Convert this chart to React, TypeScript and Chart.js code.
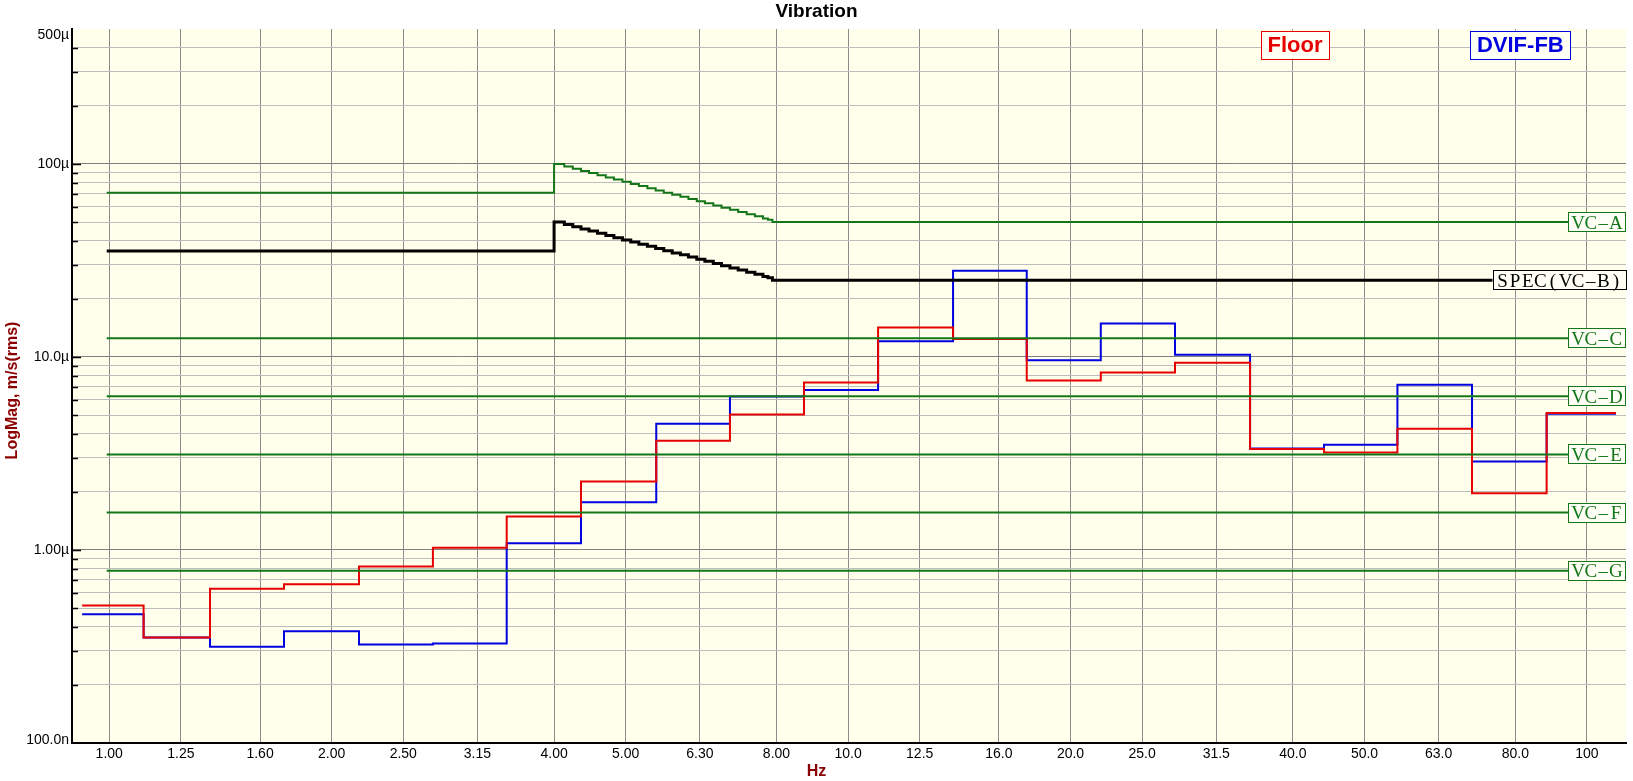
import React, { useEffect, useRef } from 'react';
import { Chart, registerables } from 'chart.js';

Chart.register(...registerables);

// ---- Data (velocities in µm/s, frequencies in Hz) ----
const bandEdgesHz = [0.919, 1.113, 1.369, 1.724, 2.178, 2.742, 3.451, 4.35, 5.5, 6.92, 8.716, 10.98, 13.87, 17.45, 21.98, 27.7, 35.0, 44.07, 55.4, 69.9, 88.2, 109.5];
const floorUm = [0.516, 0.352, 0.63, 0.664, 0.822, 1.028, 1.49, 2.26, 3.68, 5.04, 7.38, 14.2, 12.4, 7.56, 8.3, 9.34, 3.34, 3.2, 4.25, 1.97, 5.13];
const dvifUm = [0.464, 0.352, 0.3155, 0.379, 0.324, 0.328, 1.082, 1.765, 4.51, 6.23, 6.75, 12.05, 28.0, 9.6, 14.9, 10.28, 3.36, 3.51, 7.18, 2.87, 5.08];

const criterionEdgesHz = [0.992, 4.0, 4.13, 4.24, 4.35, 4.46, 4.58, 4.7, 4.82, 4.95, 5.08, 5.21, 5.35, 5.49, 5.63, 5.78, 5.93, 6.08, 6.24, 6.4, 6.57, 6.74, 6.92, 7.1, 7.29, 7.48, 7.67, 7.79, 7.9, 112.95];
const vcAUm = [71.0, 100, 96.9, 94.3, 92.0, 89.7, 87.3, 85.1, 83.0, 80.8, 78.7, 76.8, 74.8, 72.9, 71.0, 69.2, 67.5, 65.8, 64.1, 62.5, 60.9, 59.3, 57.8, 56.3, 54.9, 53.5, 52.2, 51.3, 50.0];
const specUm = [35.4, 50, 48.5, 47.2, 46.0, 44.9, 43.7, 42.6, 41.5, 40.4, 39.4, 38.4, 37.4, 36.5, 35.5, 34.6, 33.8, 32.9, 32.1, 31.3, 30.5, 29.7, 28.9, 28.2, 27.5, 26.8, 26.1, 25.7, 25.0];

const vcLineHz = [0.992, 112.95];
const vcLevelNames = ['VC–C', 'VC–D', 'VC–E', 'VC–F', 'VC–G'];
const vcLevelUm = [12.5, 6.25, 3.125, 1.5625, 0.78125];

const labelNames = ['VC–A', 'SPEC(VC–B)', 'VC–C', 'VC–D', 'VC–E', 'VC–F', 'VC–G'];
const labelUm = [50, 25, 12.5, 6.25, 3.125, 1.5625, 0.78125];

const xTickHz = [1, 1.25, 1.6, 2, 2.5, 3.15, 4, 5, 6.3, 8, 10, 12.5, 16, 20, 25, 31.5, 40, 50, 63, 80, 100];
const xTickLabels = ['1.00', '1.25', '1.60', '2.00', '2.50', '3.15', '4.00', '5.00', '6.30', '8.00', '10.0', '12.5', '16.0', '20.0', '25.0', '31.5', '40.0', '50.0', '63.0', '80.0', '100'];
const yTickValues = [1e-7, 1e-6, 1e-5, 1e-4, 5e-4];
const yTickLabels = ['100.0n', '1.00µ', '10.0µ', '100µ', '500µ'];

// ---- Styles ----
const SANS = '"Liberation Sans", Arial, sans-serif';
const SERIF = '"Liberation Serif", "Times New Roman", serif';
const RED = '#e60000';
const BLUE = '#0000e0';
const GREEN = '#13771a';
const DARKRED = '#8b0000';
const PLOT_BG = '#ffffeb';

function stepPoints(edges: number[], valuesUm: number[]) {
  return edges.map((x, i) => ({ x, y: valuesUm[Math.min(i, valuesUm.length - 1)] * 1e-6 }));
}

function lineDs(label: string, data: any[], color: string, width: number) {
  return {
    label,
    data,
    borderColor: color,
    backgroundColor: color,
    borderWidth: width,
    pointRadius: 0,
    stepped: true,
    fill: false,
    tension: 0,
    borderJoinStyle: 'miter' as const,
    borderCapStyle: 'butt' as const,
  };
}

const bgPlugin = {
  id: 'bgPlugin',
  beforeDraw(chart: any) {
    const { ctx, chartArea } = chart;
    ctx.save();
    ctx.fillStyle = '#ffffff';
    ctx.fillRect(0, 0, chart.width, chart.height);
    ctx.fillStyle = PLOT_BG;
    ctx.fillRect(chartArea.left, chartArea.top, chartArea.right - chartArea.left, chartArea.bottom - chartArea.top);
    ctx.restore();
  },
};

function isDecade(v: number) {
  const l = Math.log10(v);
  return Math.abs(l - Math.round(l)) < 1e-6;
}

const overlayPlugin = {
  id: 'overlayPlugin',
  afterDatasetsDraw(chart: any) {
    const { ctx, chartArea } = chart;
    const yScale = chart.scales.y;
    ctx.save();
    // inner tick marks on the y axis
    ctx.strokeStyle = '#000';
    ctx.lineWidth = 1.5;
    for (const t of yScale.ticks) {
      if (t.value <= 1.0001e-7 || t.value >= 4.999e-4) continue;
      const y = Math.round(yScale.getPixelForValue(t.value)) + 0.5;
      const len = isDecade(t.value) ? 9 : 6;
      ctx.beginPath();
      ctx.moveTo(chartArea.left, y);
      ctx.lineTo(chartArea.left + len, y);
      ctx.stroke();
    }

    // criterion labels at right
    const cell = 12.6;
    ctx.font = `19px ${SERIF}`;
    ctx.textAlign = 'center';
    ctx.textBaseline = 'alphabetic';
    labelNames.forEach((name, i) => {
      const y = yScale.getPixelForValue(labelUm[i] * 1e-6);
      const color = name.startsWith('SPEC') ? '#000' : GREEN;
      const tw = name.length * cell;
      const w = tw + 7.5;
      const h = 20;
      const x0 = chartArea.right - w;
      const y0 = y - h / 2;
      ctx.fillStyle = '#fffff6';
      ctx.fillRect(x0, y0, w, h);
      ctx.strokeStyle = color;
      ctx.lineWidth = 1;
      ctx.strokeRect(Math.round(x0) + 0.5, Math.round(y0) + 0.5, Math.round(w) - 1, h - 1);
      ctx.fillStyle = color;
      for (let k = 0; k < name.length; k++) {
        ctx.fillText(name[k], x0 + 3.75 + cell * (k + 0.5), y + 6.5);
      }
    });

    // series name boxes
    const names = [
      { text: 'Floor', color: RED, fx: 0.787 },
      { text: 'DVIF-FB', color: BLUE, fx: 0.932 },
    ];
    ctx.font = `bold 22px ${SANS}`;
    ctx.textAlign = 'center';
    ctx.textBaseline = 'middle';
    for (const n of names) {
      const cx = chartArea.left + n.fx * (chartArea.right - chartArea.left);
      const cy = chartArea.top + 15.5;
      const tw = ctx.measureText(n.text).width;
      const w = tw + 13;
      const h = 28;
      ctx.fillStyle = '#fffff6';
      ctx.fillRect(cx - w / 2, cy - h / 2, w, h);
      ctx.strokeStyle = n.color;
      ctx.lineWidth = 1;
      ctx.strokeRect(Math.round(cx - w / 2) + 0.5, Math.round(cy - h / 2) + 0.5, Math.round(w), h);
      ctx.fillStyle = n.color;
      ctx.fillText(n.text, cx, cy + 1);
    }
    ctx.restore();
  },
  afterDraw(chart: any) {
    const { ctx, chartArea } = chart;
    const yScale = chart.scales.y;
    ctx.save();

    // y tick labels (kept inside the plot's vertical extent, as in the original)
    ctx.fillStyle = '#000';
    ctx.font = `14px ${SANS}`;
    ctx.textAlign = 'right';
    ctx.textBaseline = 'middle';
    yTickValues.forEach((v, i) => {
      let y = yScale.getPixelForValue(v);
      y = Math.max(chartArea.top + 6, Math.min(chartArea.bottom - 3, y));
      ctx.fillText(yTickLabels[i], chartArea.left - 3, y);
    });

    ctx.font = `bold 19px ${SANS}`;
    ctx.textAlign = 'center';
    ctx.textBaseline = 'alphabetic';
    ctx.fillText('Vibration', chart.width / 2, 17);

    ctx.fillStyle = DARKRED;
    ctx.font = `bold 16px ${SANS}`;
    ctx.textBaseline = 'middle';
    ctx.fillText('Hz', chart.width / 2, 772);

    ctx.translate(12.5, chart.height / 2);
    ctx.rotate(-Math.PI / 2);
    ctx.fillText('LogMag, m/s(rms)', 0, 0);
    ctx.restore();
  },
};

export default function App() {
  const ref = useRef<HTMLCanvasElement>(null);

  useEffect(() => {
    document.body.style.margin = '0';
    const canvas = ref.current;
    if (!canvas) return;

    const datasets: any[] = [
      lineDs('VC-A', stepPoints(criterionEdgesHz, vcAUm), GREEN, 2),
      lineDs('SPEC(VC-B)', stepPoints(criterionEdgesHz, specUm), '#000000', 3),
      ...vcLevelNames.map((n, i) => lineDs(n, stepPoints(vcLineHz, [vcLevelUm[i]]), GREEN, 2)),
      lineDs('Floor', stepPoints(bandEdgesHz, floorUm), RED, 2),
      lineDs('DVIF-FB', stepPoints(bandEdgesHz, dvifUm), BLUE, 2),
    ];

    const chart = new Chart(canvas, {
      type: 'line',
      data: { datasets },
      options: {
        responsive: false,
        animation: false,
        devicePixelRatio: 1,
        events: [],
        layout: { padding: { top: 29, right: 7, bottom: 0, left: 0 } },
        plugins: {
          legend: { display: false },
          title: { display: false },
          tooltip: { enabled: false },
        },
        scales: {
          x: {
            type: 'logarithmic',
            min: 0.8904,
            max: 112.95,
            afterBuildTicks: (s: any) => {
              s.ticks = xTickHz.map((v) => ({ value: v }));
            },
            afterFit: (s: any) => {
              s.height = 38;
            },
            ticks: {
              autoSkip: false,
              maxRotation: 0,
              minRotation: 0,
              padding: 3,
              color: '#000',
              font: { family: SANS, size: 14 },
              callback: (_v: any, i: number) => xTickLabels[i],
            },
            grid: { color: '#8c8c8c', lineWidth: 1, drawTicks: false },
            border: { color: '#000', width: 2 },
          },
          y: {
            type: 'logarithmic',
            min: 1e-7,
            max: 5e-4,
            afterBuildTicks: (s: any) => {
              const t: any[] = [];
              for (let e = -7; e <= -4; e++) {
                for (let m = 1; m <= 9; m++) {
                  const v = m * Math.pow(10, e);
                  if (v <= 5.0001e-4) t.push({ value: v });
                }
              }
              s.ticks = t;
            },
            afterFit: (s: any) => {
              s.width = 72;
            },
            ticks: {
              autoSkip: false,
              padding: 3,
              color: '#000',
              font: { family: SANS, size: 14 },
              callback: () => '',
            },
            grid: {
              lineWidth: 1,
              drawTicks: false,
              color: (c: any) => {
                const v = c.tick ? c.tick.value : 0;
                if (v >= 4.999e-4) return 'rgba(0,0,0,0)';
                return isDecade(v) ? '#808080' : '#bdbdbd';
              },
            },
            border: { color: '#000', width: 2 },
          },
        },
      } as any,
      plugins: [bgPlugin, overlayPlugin],
    });

    return () => chart.destroy();
  }, []);

  return <canvas ref={ref} width={1633} height={781} style={{ display: 'block', width: 1633, height: 781 }} />;
}
